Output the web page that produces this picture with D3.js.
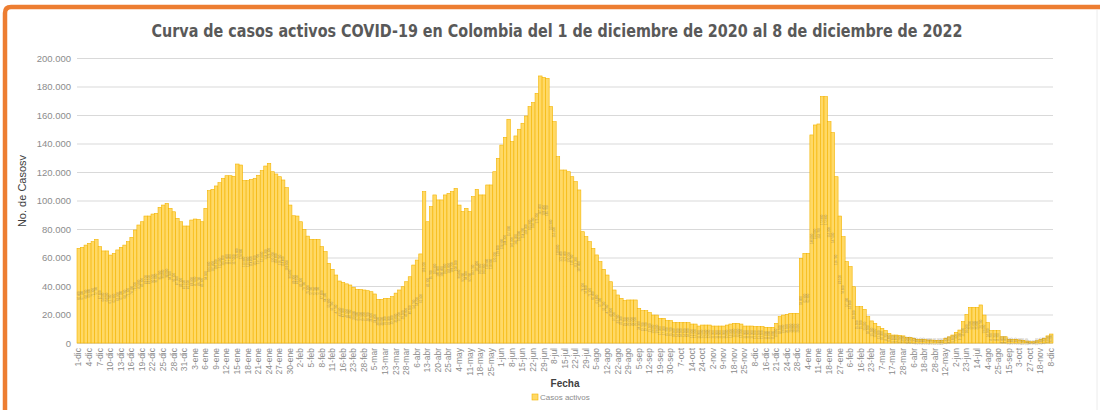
<!DOCTYPE html>
<html>
<head>
<meta charset="utf-8">
<script src="https://cdn.jsdelivr.net/npm/d3@7"></script>
<style>
  body { margin: 0; background: #fff; }
  svg { display: block; font-family: "Liberation Sans", Arial, sans-serif; }
</style>
</head>
<body>
<div id="chart-area"></div>
<script>
const width = 1100;
const height = 410;
const margin = {top: 58, left: 77, bottom: 67, right: 47};

// etiquetas visibles del eje x (una de cada tres barras)
const etiquetasFecha = [
  '1-dic', '4-dic', '7-dic', '10-dic', '13-dic', '16-dic', '19-dic', '22-dic', '25-dic', '28-dic', '31-dic',
  '3-ene', '6-ene', '9-ene', '12-ene', '15-ene', '18-ene', '21-ene', '24-ene', '27-ene', '30-ene',
  '2-feb', '5-feb', '8-feb', '11-feb', '16-feb', '23-feb', '28-feb', '5-mar', '13-mar', '23-mar', '28-mar',
  '6-abr', '13-abr', '20-abr', '25-abr', '4-may', '11-may', '18-may', '25-may', '1-jun', '8-jun', '15-jun',
  '22-jun', '29-jun', '8-jul', '15-jul', '22-jul', '29-jul', '5-ago', '12-ago', '22-ago', '29-ago',
  '5-sep', '12-sep', '19-sep', '30-sep', '7-oct', '14-oct', '24-oct', '2-nov', '9-nov', '18-nov', '25-nov',
  '8-dic', '16-dic', '21-dic', '24-dic', '28-dic', '4-ene', '11-ene', '18-ene', '27-ene', '6-feb', '16-feb',
  '23-feb', '7-mar', '17-mar', '28-mar', '6-abr', '18-abr', '28-abr', '12-may', '2-jun', '23-jun', '14-jul',
  '4-ago', '25-ago', '15-sep', '3-oct', '27-oct', '18-nov', '8-dic'
];

// casos activos por barra
const casosActivos = [
  66400, 67100, 68700, 69900, 71100, 72700, 67600, 64600, 64600, 61700,
  62900, 65300, 67100, 68700, 71100, 74100, 79300, 82800, 85100, 89100,
  89100, 90500, 91000, 95200, 96800, 98000, 94500, 92100, 87500, 85100,
  82100, 82100, 86300, 87000, 86700, 85100, 94500, 106900, 107800, 110200,
  112500, 115600, 117400, 117400, 117000, 125600, 124900, 113900, 113900, 114800,
  115600, 117700, 121000, 124200, 126100, 120200, 118600, 116700, 114400, 109000,
  96800, 89300, 89100, 85100, 79700, 75000, 72700, 72700, 72700, 67600,
  64100, 55900, 51700, 47700, 43500, 42500, 41500, 40700, 39000, 37600,
  37600, 37200, 36700, 36000, 34400, 30600, 30600, 31300, 31300, 32500,
  35000, 37200, 39500, 43000, 46500, 54700, 58200, 62500, 106200, 85100,
  95700, 103900, 100400, 100400, 103900, 105000, 106200, 108500, 96800, 92200,
  94500, 92200, 102700, 107800, 103900, 103900, 110900, 110900, 120200, 129600,
  138900, 144300, 157000, 141300, 145300, 150000, 154200, 159300, 165900, 168700,
  175200, 187400, 186400, 185700, 165900, 155300, 130800, 121400, 121400, 120200,
  116700, 113200, 107400, 78100, 74600, 71100, 66400, 61800, 57100, 51700,
  47700, 43000, 37200, 33700, 31300, 29700, 30200, 30200, 30200, 24300,
  22700, 22700, 21300, 19600, 19600, 17300, 17300, 15700, 15700, 14300,
  14300, 14300, 14300, 14300, 13300, 13300, 11900, 12600, 12600, 12600,
  11900, 11900, 11900, 11900, 12600, 13300, 13800, 13800, 13300, 11900,
  11900, 11900, 11500, 11500, 11500, 11000, 11000, 11000, 13800, 18500,
  19600, 20100, 20800, 20800, 20800, 59400, 62900, 62900, 146000, 153000,
  153700, 172900, 172900, 155300, 147600, 116700, 89100, 74600, 57100, 53600,
  39500, 25500, 25500, 23600, 18500, 15500, 13800, 11500, 10300, 8700,
  6800, 5600, 5600, 5200, 5000, 4000, 4000, 3300, 2600, 2600,
  2600, 2100, 2100, 1900, 1800, 1800, 3300, 4300, 5600, 7500,
  9100, 15000, 20000, 25000, 25000, 25000, 26700, 19600, 14300, 8700,
  8700, 8700, 4400, 4400, 2600, 2600, 2600, 2100, 1900, 1400,
  900, 900, 1600, 2600, 3300, 5000, 6300
];

const yTicks = [0, 20000, 40000, 60000, 80000, 100000, 120000, 140000, 160000, 180000, 200000];

const es = d3.formatLocale({decimal: ',', thousands: '.', grouping: [3], currency: ['$', '']});
const fmt = es.format(',d');

const x = d3.scaleBand()
  .domain(d3.range(casosActivos.length))
  .range([margin.left, width - margin.right])
  .padding(0);

const y = d3.scaleLinear()
  .domain([0, 200000])
  .range([height - margin.bottom, margin.top]);

const svg = d3.select('#chart-area').append('svg')
  .attr('width', width)
  .attr('height', height);

// marco naranja (solo arriba e izquierda)
svg.append('path')
  .attr('d', `M5,${height} V13 Q5,7 11,7 H${width}`)
  .attr('fill', 'none')
  .attr('stroke', '#ED7D31')
  .attr('stroke-width', 4.5);
svg.append('line')
  .attr('x1', 1097).attr('x2', 1097).attr('y1', 10).attr('y2', height)
  .attr('stroke', '#ececec');

// titulo
svg.append('text')
  .attr('x', 557).attr('y', 37)
  .attr('text-anchor', 'middle')
  .attr('textLength', 811)
  .attr('lengthAdjust', 'spacingAndGlyphs')
  .style('font-family', '"Liberation Sans Narrow", "DejaVu Sans Condensed", sans-serif')
  .style('font-weight', 'bold')
  .style('font-size', '18px')
  .style('fill', '#595959')
  .text('Curva de casos activos COVID-19 en Colombia del 1 de diciembre de 2020 al 8 de diciembre de 2022');

// eje y + lineas de cuadricula
const yAxis = g => g
  .attr('transform', `translate(${margin.left}, 0)`)
  .call(d3.axisLeft(y).tickValues(yTicks).tickFormat(fmt).tickSize(0).tickPadding(6))
  .call(g => g.select('.domain').remove())
  .call(g => g.selectAll('.tick line')
    .attr('x2', width - margin.left - margin.right)
    .style('stroke', '#d9d9d9'))
  .call(g => g.selectAll('text')
    .style('font-size', '9.5px')
    .style('fill', '#8c8c8c'));

// eje x con etiquetas giradas
const xAxis = g => g
  .attr('transform', `translate(0, ${height - margin.bottom})`)
  .call(d3.axisBottom(x)
    .tickValues(d3.range(0, casosActivos.length, 3))
    .tickFormat(i => etiquetasFecha[i / 3])
    .tickSize(0))
  .call(g => g.select('.domain').remove())
  .call(g => g.selectAll('text')
    .attr('transform', 'rotate(-90)')
    .attr('text-anchor', 'end')
    .attr('x', -5)
    .attr('y', 0)
    .attr('dy', '0.32em')
    .style('font-size', '8.5px')
    .style('fill', '#8c8c8c'));

svg.append('g').call(yAxis);
svg.append('g').call(xAxis);

// barras
svg.append('g')
  .selectAll('rect').data(casosActivos).enter().append('rect')
  .attr('x', (d, i) => x(i))
  .attr('y', d => y(d))
  .attr('width', x.bandwidth())
  .attr('height', d => y(0) - y(d))
  .attr('fill', '#FFD966')
  .attr('stroke', '#F4B400')
  .attr('stroke-width', 0.6);

// etiquetas de datos (centro de la barra, giradas para que quepan en cada barra)
svg.append('g')
  .selectAll('text').data(casosActivos).enter().append('text')
  .attr('transform', (d, i) => `translate(${x(i) + x.bandwidth() / 2}, ${y(d / 2)}) rotate(-90)`)
  .attr('dy', '0.35em')
  .attr('text-anchor', 'middle')
  .style('font-size', '2.9px')
  .style('fill', '#7d6e50')
  .style('opacity', 0.6)
  .text(d => fmt(d));

// titulos de ejes
svg.append('text')
  .attr('transform', 'translate(26, 191) rotate(-90)')
  .attr('text-anchor', 'middle')
  .style('font-size', '11px')
  .style('fill', '#404040')
  .text('No. de Casosv');

svg.append('text')
  .attr('x', (margin.left + width - margin.right) / 2)
  .attr('y', 387)
  .attr('text-anchor', 'middle')
  .style('font-size', '10px')
  .style('font-weight', 'bold')
  .style('fill', '#404040')
  .text('Fecha');

// leyenda
const legend = svg.append('g').attr('transform', 'translate(532, 397)');
legend.append('rect')
  .attr('x', 0).attr('y', -3)
  .attr('width', 6).attr('height', 6)
  .attr('fill', '#FFD966')
  .attr('stroke', '#F4B400')
  .attr('stroke-width', 0.6);
legend.append('text')
  .attr('x', 8).attr('y', 0).attr('dy', '0.35em')
  .style('font-size', '8px')
  .style('fill', '#8c8c8c')
  .text('Casos activos');
</script>
</body>
</html>
